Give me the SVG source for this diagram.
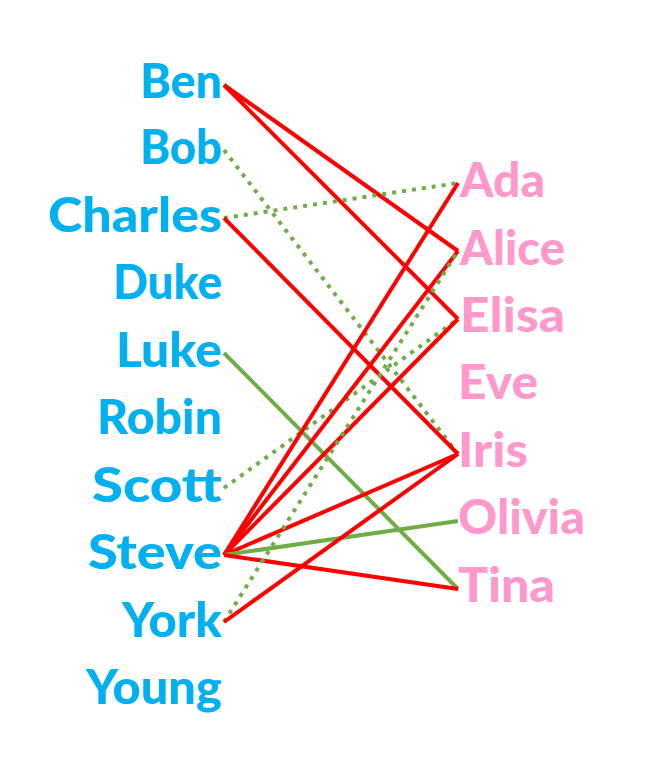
<svg xmlns="http://www.w3.org/2000/svg" width="645" height="781" viewBox="0 0 645 781">
<style>
.l{font-family:"Lato","Noto Sans",sans-serif;font-weight:900;font-size:48px;fill:#00b0f0;text-anchor:end}
.r{font-family:"Lato","Noto Sans",sans-serif;font-weight:900;font-size:48px;fill:#ff99cc;text-anchor:start}
.red{stroke:#ff0000;stroke-width:4;fill:none}
.grn{stroke:#70ad47;stroke-width:4;fill:none}
.dot{stroke:#70ad47;stroke-width:4;fill:none;stroke-dasharray:4 6}
</style>
<rect width="645" height="781" fill="#ffffff"/>
<g id="connectors">
<line class="red" x1="224" y1="85" x2="458" y2="251"/>
<line class="red" x1="224" y1="85" x2="458" y2="319"/>
<line class="dot" x1="224" y1="150" x2="458" y2="454"/>
<line class="dot" x1="224" y1="218" x2="458" y2="183"/>
<line class="red" x1="224" y1="218" x2="458" y2="454"/>
<line class="grn" x1="224" y1="353" x2="458" y2="589"/>
<line class="dot" x1="224" y1="488" x2="458" y2="319"/>
<line class="red" x1="224" y1="555" x2="458" y2="183"/>
<line class="red" x1="224" y1="555" x2="458" y2="251"/>
<line class="red" x1="224" y1="555" x2="458" y2="319"/>
<line class="red" x1="224" y1="555" x2="458" y2="454"/>
<line class="grn" x1="224" y1="555" x2="458" y2="521"/>
<line class="red" x1="224" y1="555" x2="458" y2="589"/>
<line class="dot" x1="224" y1="622" x2="458" y2="251"/>
<line class="red" x1="224" y1="622" x2="458" y2="454"/>
</g>
<g id="Ben"><text class="l" x="222" y="98" textLength="82" lengthAdjust="spacingAndGlyphs">Ben</text></g>
<g id="Bob"><text class="l" x="222" y="164" textLength="82" lengthAdjust="spacingAndGlyphs">Bob</text></g>
<g id="Charles"><text class="l" x="222" y="232" textLength="174" lengthAdjust="spacingAndGlyphs">Charles</text></g>
<g id="Duke"><text class="l" x="222" y="299" textLength="109" lengthAdjust="spacingAndGlyphs">Duke</text></g>
<g id="Luke"><text class="l" x="222" y="367" textLength="106" lengthAdjust="spacingAndGlyphs">Luke</text></g>
<g id="Robin"><text class="l" x="222" y="434" textLength="125" lengthAdjust="spacingAndGlyphs">Robin</text></g>
<g id="Scott"><text class="l" x="222" y="502" textLength="130" lengthAdjust="spacingAndGlyphs">Scott</text></g>
<g id="Steve"><text class="l" x="222" y="569" textLength="134" lengthAdjust="spacingAndGlyphs">Steve</text></g>
<g id="York"><text class="l" x="222" y="637" textLength="100" lengthAdjust="spacingAndGlyphs">York</text></g>
<g id="Young"><text class="l" x="222" y="704" textLength="136" lengthAdjust="spacingAndGlyphs">Young</text></g>
<g id="Ada"><text class="r" x="460" y="197" textLength="85" lengthAdjust="spacingAndGlyphs">Ada</text></g>
<g id="Alice"><text class="r" x="460" y="265" textLength="105" lengthAdjust="spacingAndGlyphs">Alice</text></g>
<g id="Elisa"><text class="r" x="460" y="332" textLength="105" lengthAdjust="spacingAndGlyphs">Elisa</text></g>
<g id="Eve"><text class="r" x="458" y="399" textLength="80" lengthAdjust="spacingAndGlyphs">Eve</text></g>
<g id="Iris"><text class="r" x="458" y="467" textLength="70" lengthAdjust="spacingAndGlyphs">Iris</text></g>
<g id="Olivia"><text class="r" x="458" y="534" textLength="127" lengthAdjust="spacingAndGlyphs">Olivia</text></g>
<g id="Tina"><text class="r" x="458" y="602" textLength="97" lengthAdjust="spacingAndGlyphs">Tina</text></g>
</svg>
